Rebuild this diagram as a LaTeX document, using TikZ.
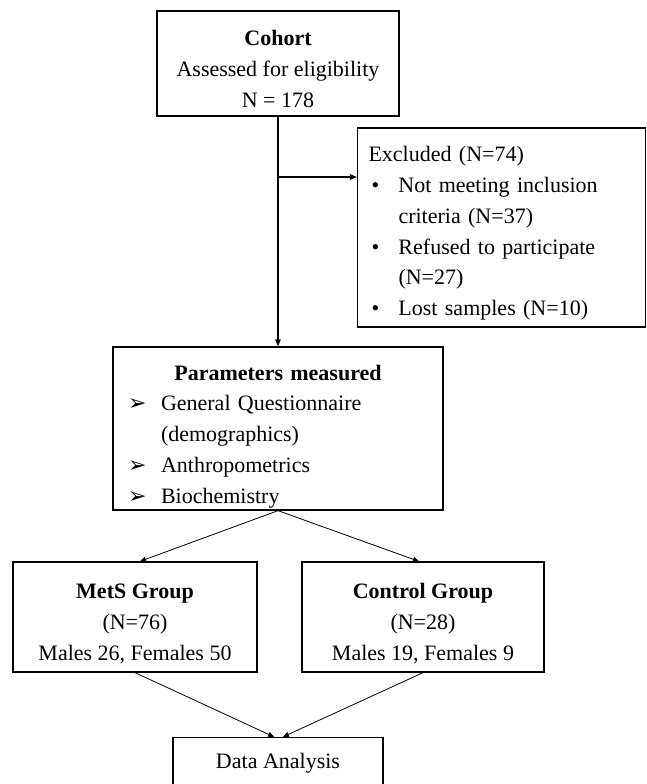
\documentclass[tikz,border=0pt]{standalone}
\usepackage{fontspec}
\setmainfont{Liberation Serif}
\newfontfamily\arrowfont{DejaVu Sans}
\usetikzlibrary{arrows.meta,positioning}

\newcommand{\itemarrow}{\makebox[33pt][l]{\arrowfont\bfseries\fontsize{22}{30.7}\selectfont ➢}}
\newcommand{\itembullet}{\hspace*{3pt}\makebox[27pt][l]{•}}
\newcommand{\lift}[1]{\rule{0pt}{#1}}

\begin{document}
\begin{tikzpicture}[x=1pt,y=-1pt,on grid,
  font=\fontsize{22}{30.7}\selectfont,
  box/.style={draw,line width=1.3pt,inner sep=0pt,align=center},
  flow/.style={line width=1.1pt,-{Triangle[length=7pt,width=5.5pt]}},
  split/.style={line width=0.8pt,-{Triangle[length=6pt,width=5pt]}}]
\useasboundingbox (0,0) rectangle (646,784);
\node[box,minimum width=242pt,minimum height=105pt] (cohort) at (278,63.5)
  {\lift{26pt}\textbf{Cohort}\\Assessed for eligibility\\N = 178};
\node[box,minimum width=288pt,minimum height=199pt,text width=266pt,align=left]
  (excluded) [below right=164pt and 223.5pt of cohort]
  {\lift{27pt}Excluded (N=74)\\
   \itembullet Not meeting inclusion\\
   \hspace*{30pt}criteria (N=37)\\
   \itembullet Refused to participate\\
   \hspace*{30pt}(N=27)\\
   \itembullet Lost samples (N=10)};
\node[box,minimum width=330pt,minimum height=163pt,text width=300pt,align=left]
  (param) [below=365pt of cohort]
  {\lift{31pt}\makebox[300pt]{\textbf{Parameters measured}}\\
   \itemarrow General Questionnaire\\
   \hspace*{33pt}(demographics)\\
   \itemarrow Anthropometrics\\
   \itemarrow Biochemistry};
\node[box,minimum width=244pt,minimum height=110pt] (mets)
  [below left=188.5pt and 143pt of param]
  {\lift{28pt}\textbf{MetS Group}\\(N=76)\\Males 26, Females 50};
\node[box,minimum width=242pt,minimum height=110pt] (control)
  [below right=188.5pt and 145pt of param]
  {\lift{28pt}\textbf{Control Group}\\(N=28)\\Males 19, Females 9};
\node[box,minimum width=210pt,minimum height=52pt] (data)
  [below=335pt of param] {Data Analysis};
\coordinate (branch) at (278,177);

\draw[flow] (cohort) -- (param);
\draw[flow] (branch) -- (branch -| excluded.west);
\draw[split] (param.south) -- ([xshift=5pt]mets.north);
\draw[split] (param.south) -- ([xshift=-4pt]control.north);
\draw[split] (mets.south) -- ([xshift=-4pt]data.north);
\draw[split] (control.south) -- ([xshift=5pt]data.north);
\end{tikzpicture}
\end{document}
